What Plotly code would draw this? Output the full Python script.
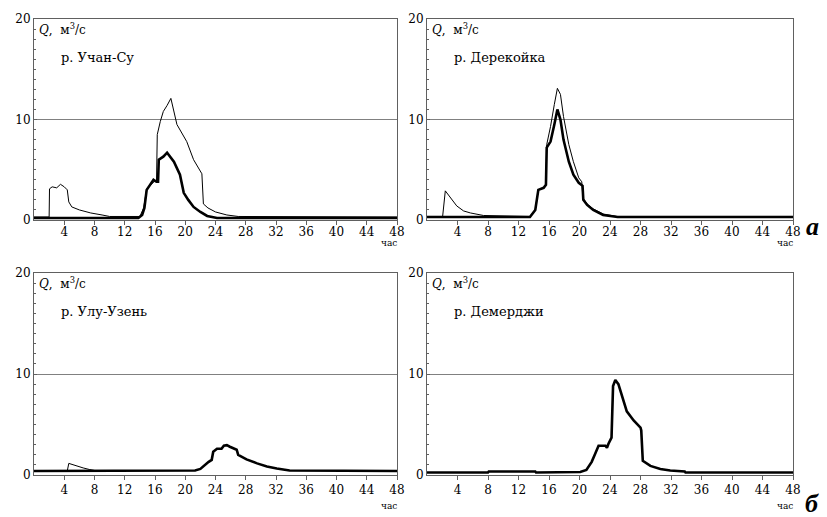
import plotly.graph_objects as go

W, H = 827, 517

# ---------------- data (hours, m3/s) ----------------
uchan_thin_t = [0, 2.0, 2.05, 2.4, 3.0, 3.5, 4.0, 4.4, 4.6, 5.0, 6.0, 7.5, 9.0, 10.0, 14.0, 14.5, 14.9, 15.4, 16.0, 16.2,
                16.3, 16.7, 17.1, 17.6, 18.1, 18.9, 19.6, 20.2, 21.1, 22.2, 22.4, 23.0, 24.0, 25.5, 27.0, 48]
uchan_thin_q = [0.3, 0.3, 3.1, 3.3, 3.2, 3.55, 3.3, 3.0, 1.8, 1.3, 1.0, 0.7, 0.5, 0.35, 0.35, 1.2, 3.1, 3.5, 3.9, 3.8,
                8.5, 9.8, 10.8, 11.4, 12.1, 9.5, 8.6, 7.8, 6.0, 4.6, 1.6, 1.2, 0.8, 0.5, 0.35, 0.3]
uchan_thick_t = [0, 13.8, 14.3, 14.6, 14.9, 15.4, 15.8, 16.2, 16.4, 16.5, 17.1, 17.6, 18.5, 19.3, 19.8, 20.4, 21.1,
                 22.0, 22.9, 24.2, 48]
uchan_thick_q = [0.2, 0.2, 0.5, 1.2, 3.0, 3.5, 4.0, 3.8, 3.8, 6.0, 6.3, 6.7, 5.8, 4.5, 2.7, 2.0, 1.3, 0.8, 0.4, 0.2, 0.2]

derek_thin_t = [0, 2.05, 2.4, 3.05, 3.9, 4.8, 5.7, 7.4, 13.5, 14.2, 14.6, 15.3, 15.6, 15.7, 16.2, 16.7, 17.1, 17.5,
                17.9, 18.6, 19.2, 19.9, 20.3, 20.45, 21.0, 21.8, 23.1, 24.9, 48]
derek_thin_q = [0.35, 0.35, 2.9, 2.2, 1.4, 0.9, 0.7, 0.45, 0.35, 1.0, 3.0, 3.2, 3.6, 7.5, 9.3, 11.5, 13.1, 12.5,
                10.3, 7.5, 5.8, 4.2, 3.8, 2.2, 1.6, 1.1, 0.6, 0.35, 0.35]
derek_thick_t = [0, 13.5, 14.2, 14.6, 15.3, 15.6, 15.7, 16.2, 16.7, 17.1, 17.5, 17.9, 18.6, 19.2, 19.9, 20.4, 20.5,
                 21.0, 21.8, 23.1, 25.0, 48]
derek_thick_q = [0.3, 0.3, 1.0, 3.0, 3.2, 3.5, 7.2, 7.8, 9.5, 11.0, 10.0, 8.0, 5.8, 4.5, 3.7, 3.4, 2.0, 1.5, 1.0,
                 0.5, 0.3, 0.3]

ulu_thin_t = [0, 4.4, 4.6, 5.5, 6.5, 7.3, 8.0]
ulu_thin_q = [0.4, 0.4, 1.15, 0.9, 0.7, 0.55, 0.45]
ulu_thick_t = [0, 21.3, 22.0, 22.6, 23.1, 23.5, 23.7, 24.2, 24.8, 25.1, 25.5, 25.9, 26.8, 27.0, 28.1, 29.5, 30.8,
               32.1, 33.8, 48]
ulu_thick_q = [0.4, 0.45, 0.6, 1.0, 1.3, 1.5, 2.3, 2.6, 2.6, 2.9, 2.95, 2.8, 2.5, 2.0, 1.55, 1.15, 0.85, 0.65,
               0.45, 0.4]

demer_thick_t = [0, 8.0, 8.1, 14.2, 14.3, 20.1, 20.9, 21.6, 22.0, 22.5, 23.4, 23.6, 23.8, 24.0, 24.2, 24.4, 24.7,
                 25.1, 25.5, 26.2, 27.1, 28.0, 28.1, 28.3, 29.3, 30.6, 31.9, 33.8, 33.9, 48]
demer_thick_q = [0.25, 0.25, 0.35, 0.35, 0.25, 0.3, 0.5, 1.3, 2.0, 2.9, 2.9, 2.7, 3.1, 3.5, 3.7, 8.8, 9.4, 9.0,
                 8.0, 6.3, 5.4, 4.7, 4.4, 1.4, 0.9, 0.6, 0.45, 0.35, 0.25, 0.25]

river_names = ["р. Учан-Су", "р. Дерекойка", "р. Улу-Узень", "р. Демерджи"]
x_ticks = [4, 8, 12, 16, 20, 24, 28, 32, 36, 40, 44, 48]
y_ticks = [0, 10, 20]
row_letters = ["а", "б"]

# ---------------- layout helpers ----------------
def px_x(p):
    return p / W

def px_y(p):
    return 1 - p / H

col_px = [(34, 397), (427, 793)]
row_px = [(19, 220), (273, 475)]

fig = go.Figure()

panels = [
    (0, 0, [(uchan_thin_t, uchan_thin_q, 1.0), (uchan_thick_t, uchan_thick_q, 2.6)]),
    (0, 1, [(derek_thin_t, derek_thin_q, 1.0), (derek_thick_t, derek_thick_q, 2.6)]),
    (1, 0, [(ulu_thin_t, ulu_thin_q, 1.0), (ulu_thick_t, ulu_thick_q, 2.6)]),
    (1, 1, [(demer_thick_t, demer_thick_q, 2.6)]),
]

FONT = "DejaVu Serif"
LETTER_FONT = "Liberation Serif"
axis_col = "#606060"

for i, (r, c, series) in enumerate(panels):
    n = i + 1
    xa = "x" if n == 1 else f"x{n}"
    ya = "y" if n == 1 else f"y{n}"
    for t, q, w in series:
        fig.add_trace(go.Scatter(x=t, y=q, mode="lines", xaxis=xa, yaxis=ya,
                                 line=dict(color="black", width=w), showlegend=False,
                                 hoverinfo="skip"))
    x0, x1 = col_px[c]
    y0, y1 = row_px[r]
    xkey = "xaxis" if n == 1 else f"xaxis{n}"
    ykey = "yaxis" if n == 1 else f"yaxis{n}"
    fig.update_layout(**{
        xkey: dict(domain=[px_x(x0), px_x(x1)], range=[0, 48], anchor=ya, automargin=False,
                   tickvals=x_ticks, ticks="outside", ticklen=4, tickcolor=axis_col,
                   ticklabelstandoff=(-3 if r == 0 else 0),
                   showline=True, linecolor=axis_col, linewidth=1, mirror=True,
                   showgrid=False, zeroline=False,
                   tickfont=dict(family=FONT, size=12, color="black")),
        ykey: dict(domain=[px_y(y1), px_y(y0)], range=[0, 20], anchor=xa, automargin=False,
                   tickvals=y_ticks, ticks="inside", ticklen=3, tickcolor=axis_col,
                   showline=True, linecolor=axis_col, linewidth=1, mirror=True,
                   showgrid=True, gridcolor="#808080", gridwidth=1, zeroline=False,
                   minor=dict(ticks="inside", dtick=1, ticklen=2, tickcolor=axis_col, showgrid=False),
                   tickfont=dict(family=FONT, size=12, color="black")),
    })
    fig.add_annotation(x=px_x(x0 + 3), y=px_y(y0 + 10), xref="paper", yref="paper",
                       text="<i>Q</i>,\u00a0 м<sup>3</sup>/с", showarrow=False,
                       xanchor="left", yanchor="middle",
                       font=dict(family=FONT, size=12, color="black"))
    fig.add_annotation(x=px_x(x0 + 25), y=px_y(y0 + 38), xref="paper", yref="paper",
                       text=river_names[i], showarrow=False, xanchor="left", yanchor="middle",
                       font=dict(family=FONT, size=13, color="black"))
    fig.add_annotation(x=px_x(x1 - 8), y=px_y(y1 + (23 if r == 0 else 31)), xref="paper", yref="paper",
                       text="час", showarrow=False, xanchor="center", yanchor="middle",
                       font=dict(family=FONT, size=9, color="black"))

for r in range(2):
    y1 = row_px[r][1]
    fig.add_annotation(x=px_x(812), y=px_y(y1 + (7 if r == 0 else 28)), xref="paper", yref="paper",
                       text=f"<b><i>{row_letters[r]}</i></b>", showarrow=False,
                       xanchor="center", yanchor="middle",
                       font=dict(family=LETTER_FONT, size=26, color="black"))

fig.update_layout(width=W, height=H, margin=dict(l=0, r=0, t=0, b=0, autoexpand=False),
                  font=dict(family=FONT),
                  paper_bgcolor="white", plot_bgcolor="white", showlegend=False)

fig.write_html("out.html", config={"displayModeBar": False},
               post_script="document.body.style.margin='0';document.body.style.padding='0';")
